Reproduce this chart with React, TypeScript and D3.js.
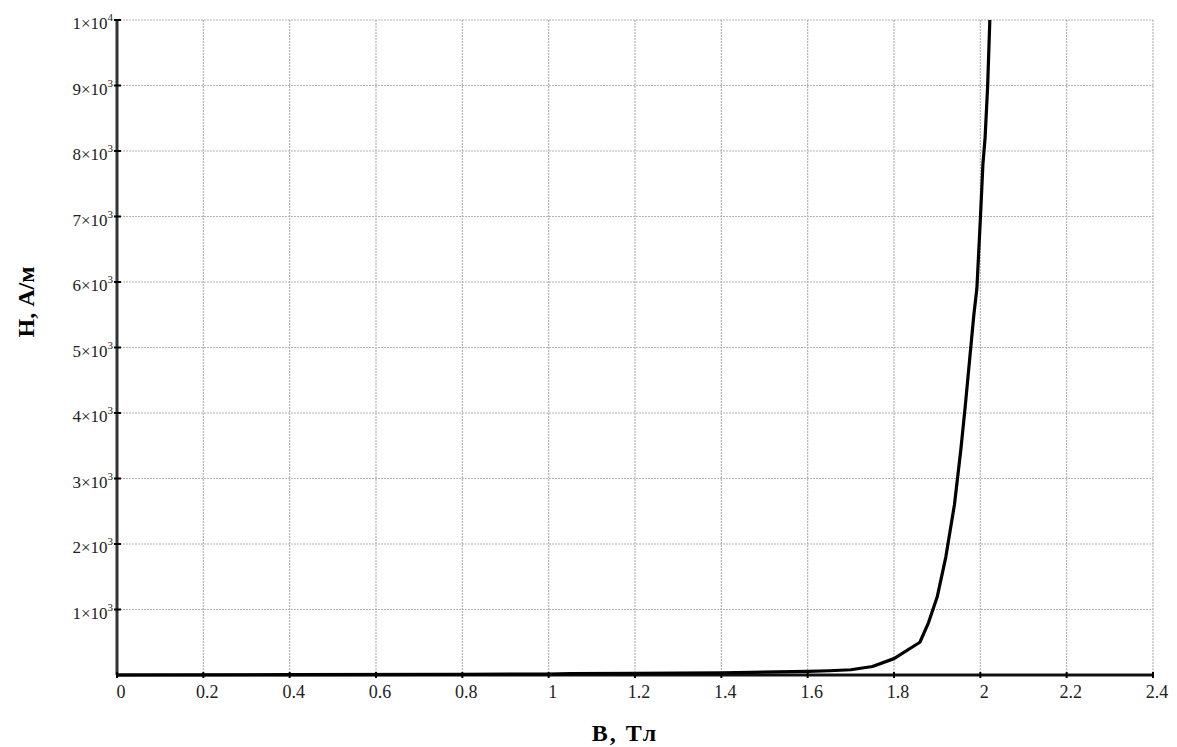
import React, { useEffect, useRef } from 'react'
import * as d3 from 'd3'

// magnetization curve H(B)
const bValues = [0, 0.4, 0.8, 1.0, 1.05, 1.2, 1.4, 1.47, 1.6, 1.65, 1.7, 1.75, 1.8, 1.86, 1.88, 1.9, 1.92, 1.94, 1.955, 1.965, 1.975, 1.985, 1.992, 2.0, 2.006, 2.011, 2.017, 2.022]
const hValues = [0, 5, 10, 15, 20, 25, 32, 40, 55, 65, 80, 130, 250, 500, 800, 1190, 1800, 2600, 3450, 4100, 4800, 5500, 5900, 6950, 7800, 8200, 9000, 10000]

const xTicks = [0, 0.2, 0.4, 0.6, 0.8, 1, 1.2, 1.4, 1.6, 1.8, 2, 2.2, 2.4]
const yTicks = [1000, 2000, 3000, 4000, 5000, 6000, 7000, 8000, 9000, 10000]
const xTitle = 'B, Тл'
const yTitle = 'H, А/м'

export default function App() {
  const ref = useRef<SVGSVGElement>(null)

  useEffect(() => {
    const width = 1177, height = 747
    const margin = { top: 20, right: 24, bottom: 72, left: 117 }
    const w = width - margin.left - margin.right
    const h = height - margin.top - margin.bottom

    const svg = d3.select(ref.current)
    svg.selectAll('*').remove()
    const g = svg.append('g').attr('transform', `translate(${margin.left}, ${margin.top})`)

    const x = d3.scaleLinear().domain([0, 2.4]).range([0, w])
    const y = d3.scaleLinear().domain([0, 10000]).range([h, 0])

    // grid
    g.selectAll('.vgrid').data(xTicks.slice(1)).join('line').attr('class', 'vgrid')
      .attr('x1', d => x(d)).attr('x2', d => x(d)).attr('y1', 0).attr('y2', h)
      .attr('stroke', '#b4b4b4').attr('stroke-width', 1.2).attr('stroke-dasharray', '2,1')
    g.selectAll('.hgrid').data(yTicks).join('line').attr('class', 'hgrid')
      .attr('x1', 0).attr('x2', w).attr('y1', d => y(d)).attr('y2', d => y(d))
      .attr('stroke', '#b4b4b4').attr('stroke-width', 1.2).attr('stroke-dasharray', '2,1')

    // axes
    g.append('line').attr('x1', 0).attr('x2', w).attr('y1', h).attr('y2', h)
      .attr('stroke', '#111').attr('stroke-width', 3)
    g.append('line').attr('x1', 0).attr('x2', 0).attr('y1', 0).attr('y2', h)
      .attr('stroke', '#333').attr('stroke-width', 3)

    // tick dots
    g.selectAll('.xtick').data(xTicks).join('line').attr('class', 'xtick')
      .attr('x1', d => x(d)).attr('x2', d => x(d)).attr('y1', h - 3).attr('y2', h + 3)
      .attr('stroke', '#000').attr('stroke-width', 2)
    g.selectAll('.ytick').data(yTicks).join('line').attr('class', 'ytick')
      .attr('x1', -3).attr('x2', 4).attr('y1', d => y(d)).attr('y2', d => y(d))
      .attr('stroke', '#000').attr('stroke-width', 2)

    // x tick labels
    g.selectAll('.xlab').data(xTicks).join('text').attr('class', 'xlab')
      .attr('x', d => x(d) + 4).attr('y', h + 23)
      .attr('text-anchor', 'middle')
      .style('font-family', '"Liberation Serif", serif').style('font-size', '18px').style('fill', '#222')
      .text(d => String(d))

    // y tick labels: k×10^p
    const ylab = g.selectAll('.ylab').data(yTicks).join('text').attr('class', 'ylab')
      .attr('x', -4).attr('y', d => y(d) + 9)
      .attr('text-anchor', 'end')
      .style('font-family', '"Liberation Serif", serif').style('font-size', '17px').style('fill', '#222')
    ylab.each(function (d) {
      const p = Math.floor(Math.log10(d))
      const k = Math.round(d / Math.pow(10, p))
      const t = d3.select(this)
      t.append('tspan').text(`${k}×10`)
      t.append('tspan').attr('dy', -8).style('font-size', '11px').text(String(p))
    })

    // curve
    const pts = bValues.map((b, i) => [b, hValues[i]] as [number, number])
    g.append('path').datum(pts)
      .attr('d', d3.line<[number, number]>().x(d => x(d[0])).y(d => y(d[1])))
      .attr('fill', 'none').attr('stroke', '#000').attr('stroke-width', 3.2)
      .attr('stroke-linejoin', 'round')

    // titles
    svg.append('text')
      .attr('x', 625).attr('y', 741)
      .attr('text-anchor', 'middle')
      .style('font-family', '"Liberation Serif", serif').style('font-size', '24px').style('font-weight', 'bold')
      .style('letter-spacing', '2px')
      .text(xTitle)
    svg.append('text')
      .attr('transform', `translate(34, 302) rotate(-90)`)
      .attr('text-anchor', 'middle')
      .style('font-family', '"Liberation Serif", serif').style('font-size', '24px').style('font-weight', 'bold')
      .text(yTitle)
  }, [])

  return (
    <div style={{ position: 'absolute', left: 0, top: 0 }}>
      <svg ref={ref} width={1177} height={747} style={{ display: 'block', background: '#fff' }} />
    </div>
  )
}
